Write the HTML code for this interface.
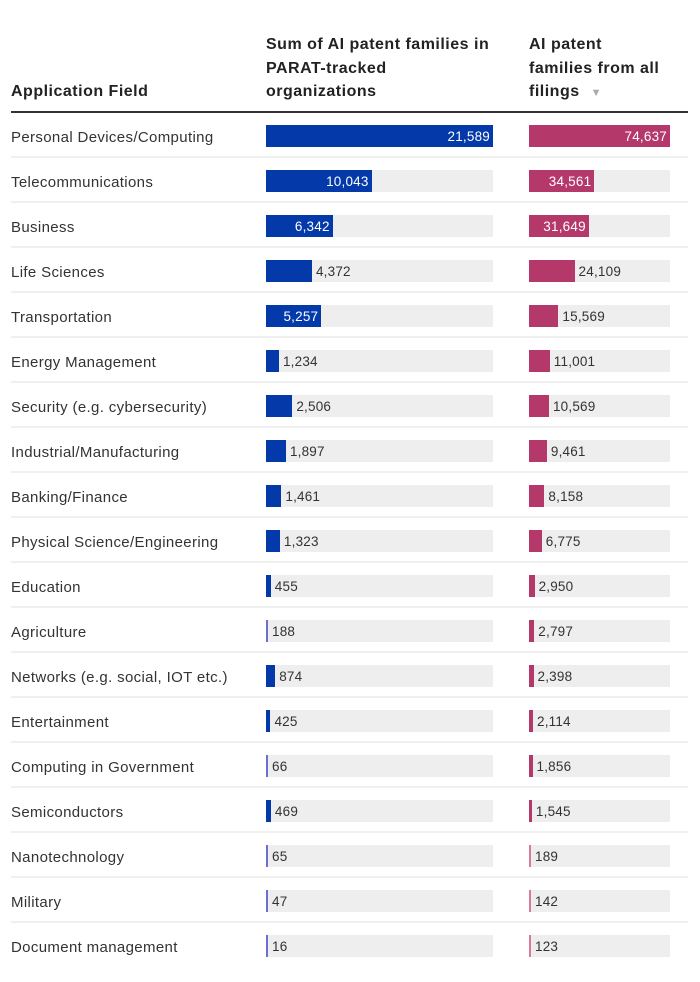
<!DOCTYPE html>
<html><head><meta charset="utf-8"><style>
*{margin:0;padding:0;box-sizing:border-box}
body{width:700px;height:982px;background:#fff;font-family:"Liberation Sans",sans-serif;color:#222;position:relative;overflow:hidden}
.h{position:absolute;font-weight:bold;font-size:16px;line-height:23.5px;color:#222;letter-spacing:0.5px}
.hr{position:absolute;left:11px;width:677px;top:111px;height:2px;background:#333}
.row{position:absolute;left:11px;width:677px;height:45px;border-bottom:2px solid #f0f0f0}
.lab{position:absolute;left:0;top:2px;line-height:45px;font-size:15px;color:#333;letter-spacing:0.35px}
.tr{position:absolute;top:12px;height:22px;background:#eee}
.b{position:absolute;left:0;top:0;height:22px}
.v{position:absolute;top:1px;line-height:22px;font-size:13.5px;color:#333;letter-spacing:0.2px}
.in{color:#fff;text-align:right}
</style></head><body>
<div class="h" style="left:11px;top:80px">Application Field</div>
<div class="h" style="left:266px;top:33px">Sum of AI patent families in<br>PARAT-tracked<br>organizations</div>
<div class="h" style="left:529px;top:33px">AI patent<br>families from all<br>filings <span style="color:#aaa;font-size:11px;margin-left:6px">▼</span></div>
<div class="hr"></div>
<div id="rows"></div>
<script>
var d=[["Personal Devices/Computing",21589,74637],["Telecommunications",10043,34561],["Business",6342,31649],["Life Sciences",4372,24109],["Transportation",5257,15569],["Energy Management",1234,11001],["Security (e.g. cybersecurity)",2506,10569],["Industrial/Manufacturing",1897,9461],["Banking/Finance",1461,8158],["Physical Science/Engineering",1323,6775],["Education",455,2950],["Agriculture",188,2797],["Networks (e.g. social, IOT etc.)",874,2398],["Entertainment",425,2114],["Computing in Government",66,1856],["Semiconductors",469,1545],["Nanotechnology",65,189],["Military",47,142],["Document management",16,123]];
function f(n){return n.toLocaleString("en-US")}
function bar(x,W,val,max,col,light){var w=W*val/max;var c=col;if(w<2){w=2;c=light}
var s='<div class="tr" style="left:'+x+'px;width:'+W+'px"><div class="b" style="width:'+w+'px;background:'+c+'"></div>';
if(w>50)s+='<div class="v in" style="left:0;width:'+(w-3)+'px">'+f(val)+'</div>';else s+='<div class="v" style="left:'+(w+4)+'px">'+f(val)+'</div>';
return s+'</div>'}
var h='';d.forEach(function(r,i){h+='<div class="row" style="top:'+(113+45*i)+'px;'+(i==18?'border:0':'')+'"><div class="lab">'+r[0]+'</div>'+bar(255,227,r[1],21589,'#0339a8','#6a6fd0')+bar(518,141,r[2],74637,'#b5386b','#d87aa0')+'</div>'});
document.getElementById("rows").innerHTML=h;
</script>
</body></html>
